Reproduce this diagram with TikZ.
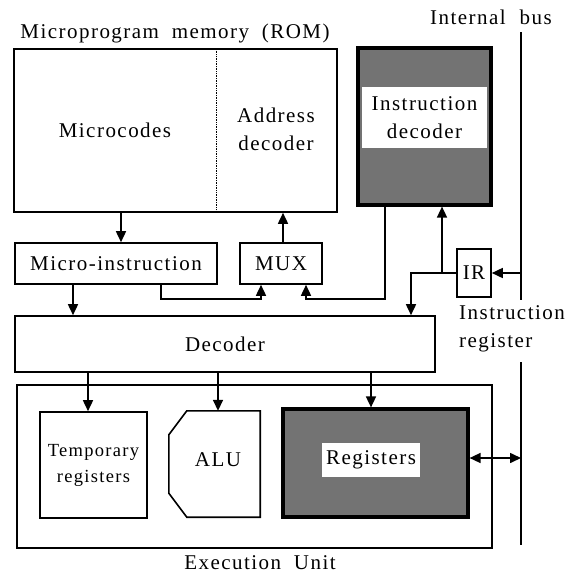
\documentclass[tikz,border=0pt]{standalone}
\usepackage{fontspec}
\setmainfont{Liberation Serif}[LetterSpace=7]
\usetikzlibrary{arrows.meta}
\begin{document}
\begin{tikzpicture}[x=1pt,y=-1pt,
  box/.style={draw, line width=1.6pt, inner sep=0pt},
  heavybox/.style={draw, line width=3.2pt, inner sep=0pt, fill=black!55},
  plainbox/.style={inner sep=0pt},
  lbl/.style={font=\fontsize{21}{28}\selectfont, align=center, inner sep=0pt},
  smalllbl/.style={font=\fontsize{18.5}{26}\selectfont, align=center, inner sep=0pt},
  conn/.style={line width=1.6pt},
  arr/.style={conn, -{Triangle[length=11pt,width=10pt]}},
  darr/.style={conn, {Triangle[length=11pt,width=10pt]}-{Triangle[length=11pt,width=10pt]}},
  divider/.style={line width=0.7pt, densely dotted},
  busline/.style={line width=1.8pt}
  ]
\useasboundingbox (0,0) rectangle (573,573);

% column / row helper coordinates
\coordinate (cA) at (121,0);
\coordinate (cB) at (283,0);
\coordinate (cC) at (161,0);
\coordinate (cD) at (261,0);
\coordinate (cE) at (385,0);
\coordinate (cF) at (306,0);
\coordinate (cG) at (442,0);
\coordinate (cH) at (411,0);
\coordinate (cI) at (73,0);
\coordinate (cJ) at (88,0);
\coordinate (cK) at (218,0);
\coordinate (cL) at (371,0);
\coordinate (rA) at (0,299);
\coordinate (rR) at (0,458);

% internal bus
\coordinate (bustop) at (521,32);
\coordinate (busmid1) at (521,300);
\coordinate (busmid2) at (521,362);
\coordinate (busbot) at (521,545);
\draw[busline] (bustop) -- (busmid1);
\draw[busline] (busmid2) -- (busbot);

% titles
\node[lbl, anchor=center] (tbus) at (491,17) {Internal\hspace{14pt}bus};
\node[lbl] (trom) at (175,33) {Microprogram\hspace{6pt} memory\hspace{6pt} (ROM)};
\node[lbl, anchor=west, align=left] (tir) at (459,329) {Instruction\\register};
\node[lbl] (texu) at (260,563) {Execution\hspace{6pt} Unit};

% ROM
\node[box, minimum width=323pt, minimum height=163pt] (rom) at (175.5,130.5) {};
\draw[divider] (216,49) -- (216,212);
\node[lbl] (mc) at (115,130) {Microcodes};
\node[lbl] (ad) at (276,129) {Address\\decoder};

% Instruction decoder
\node[heavybox, minimum width=133pt, minimum height=157pt] (id) at (424.5,126.5) {};
\fill[white] (362,87) rectangle (487,148);
\node[lbl] (idt) at (424.5,118) {Instruction\\decoder};

% micro-instruction, MUX, IR
\node[box, minimum width=202pt, minimum height=41pt, lbl] (mi) at (116,263.5) {Micro-instruction};
\node[box, minimum width=82pt, minimum height=41pt, lbl] (mux) at (281,263.5) {MUX};
\node[box, minimum width=34pt, minimum height=48pt, lbl] (ir) at (474,273) {IR};

% decoder
\node[box, minimum width=420pt, minimum height=56pt, lbl] (dec) at (225,344) {Decoder};

% execution unit
\node[box, minimum width=475pt, minimum height=163pt] (exu) at (254.5,466.5) {};
\node[box, minimum width=107pt, minimum height=106pt, smalllbl] (temp) at (93.5,465) {Temporary\\registers};
\node[plainbox, minimum width=91pt, minimum height=106pt] (alu) at (214.5,464) {};
\draw[line width=1.6pt, line join=miter] (alu.north east) -- (alu.south east) -- ([xshift=18pt]alu.south west)
  -- ([yshift=24pt]alu.south west) -- ([yshift=-24pt]alu.north west) -- ([xshift=18pt]alu.north west) -- cycle;
\node[lbl] (alut) at (218,460) {ALU};
\node[heavybox, minimum width=185pt, minimum height=108pt] (regs) at (375.5,463) {};
\fill[white] (322,443) rectangle (420,477);
\node[lbl] (regt) at (371,460) {Registers};

% connectors
\draw[arr] (rom.south -| cA) -- (mi.north -| cA);
\draw[arr] (mux.north -| cB) -- (rom.south -| cB);
\draw[arr] (mi.south -| cC) -- (cC |- rA) -- (cD |- rA) -- (mux.south -| cD);
\draw[arr] (id.south -| cE) -- (cE |- rA) -- (cF |- rA) -- (mux.south -| cF);
\draw[arr] (bustop |- ir.east) -- (ir.east);
\draw[arr] (ir.west) -- (cH |- ir.west) -- (dec.north -| cH);
\draw[arr] (cG |- ir.west) -- (id.south -| cG);
\draw[arr] (mi.south -| cI) -- (dec.north -| cI);
\draw[arr] (dec.south -| cJ) -- (temp.north -| cJ);
\draw[arr] (dec.south -| cK) -- (alu.north -| cK);
\draw[arr] (dec.south -| cL) -- (regs.north -| cL);
\draw[darr] (regs.east |- rR) -- (bustop |- rR);
\end{tikzpicture}
\end{document}
